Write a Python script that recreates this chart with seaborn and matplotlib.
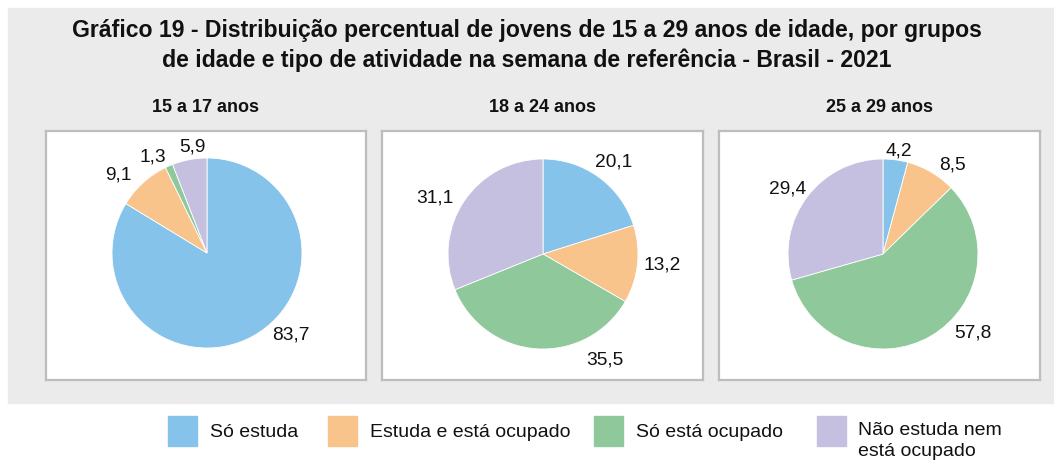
import matplotlib
matplotlib.use('Agg')
import matplotlib.pyplot as plt
from matplotlib.patches import Rectangle
import seaborn as sns

# ---- dados ----
categorias = ['Só estuda', 'Estuda e está ocupado', 'Só está ocupado',
              'Não estuda nem\nestá ocupado']
grupos = ['15 a 17 anos', '18 a 24 anos', '25 a 29 anos']
valores_15_17 = [83.7, 9.1, 1.3, 5.9]
valores_18_24 = [20.1, 13.2, 35.5, 31.1]
valores_25_29 = [4.2, 8.5, 57.8, 29.4]
cores = ['#86c3ea', '#f9c38c', '#8fc89a', '#c5c0e0']

titulo = ['Gráfico 19 - Distribuição percentual de jovens de 15 a 29 anos de idade, por grupos',
          'de idade e tipo de atividade na semana de referência - Brasil - 2021']

# ---- layout (pixels da figura) ----
W, H = 1054, 461
PAINEIS = [(46, 366), (382, 703), (719, 1040)]   # x esquerda/direita
PAINEL_Y = (131, 380)
CENTROS = [(207, 253), (543, 254), (883, 254)]
RAIO = 95
# posição dos rótulos em unidades de raio, relativo ao centro da pizza
ROTULOS_XY = [
    [(0.88, -0.86), (-0.93, 0.82), (-0.57, 1.01), (-0.15, 1.12)],
    [(0.74, 0.97), (1.25, -0.12), (0.65, -1.12), (-1.14, 0.59)],
    [(0.17, 1.08), (0.73, 0.94), (0.95, -0.83), (-1.0, 0.68)],
]
LEGENDA_X = [168, 328, 594, 817]

sns.set_theme(style='white')
plt.rcParams['font.family'] = ['Liberation Sans', 'DejaVu Sans']

pal = sns.color_palette(cores)


def fx(x):
    return x / W


def fy(y):
    return 1 - y / H


fig = plt.figure(figsize=(W / 100, H / 100), dpi=100)
fig.patch.set_facecolor('white')

# fundo cinza
fig.add_artist(Rectangle((fx(8), fy(403)), fx(W) - fx(8), fy(8) - fy(403),
                         transform=fig.transFigure, color='#ebebeb', zorder=0))

fig.text(0.5, fy(30), titulo[0], ha='center', va='center', fontsize=16.6,
         fontweight='bold', color='#111111')
fig.text(0.5, fy(60), titulo[1], ha='center', va='center', fontsize=16.6,
         fontweight='bold', color='#111111')

todos = [valores_15_17, valores_18_24, valores_25_29]
for i, valores in enumerate(todos):
    x0, x1 = PAINEIS[i]
    y0, y1 = PAINEL_Y
    cx, cy = CENTROS[i]
    ax = fig.add_axes([fx(x0), fy(y1), fx(x1) - fx(x0), fy(y0) - fy(y1)])
    ax.pie(valores, colors=pal, startangle=90, counterclock=False, radius=1,
           wedgeprops=dict(edgecolor='white', linewidth=0.6), frame=True)
    ax.set_xlim((x0 - cx) / RAIO, (x1 - cx) / RAIO)
    ax.set_ylim((cy - y1) / RAIO, (cy - y0) / RAIO)
    ax.set_aspect('auto')
    ax.set_xticks([])
    ax.set_yticks([])
    ax.set_facecolor('white')
    for sp in ax.spines.values():
        sp.set_visible(True)
        sp.set_color('#bdbdbd')
        sp.set_linewidth(1.6)
    for v, (lx, ly) in zip(valores, ROTULOS_XY[i]):
        ax.text(lx, ly, f'{v:.1f}'.replace('.', ','), ha='center', va='center',
                fontsize=13.8, color='#111111')
    fig.text(fx((x0 + x1) / 2), fy(107), grupos[i], ha='center', va='center',
             fontsize=13, fontweight='bold', color='#111111')

# legenda
for cat, cor, lx in zip(categorias, pal, LEGENDA_X):
    fig.add_artist(Rectangle((fx(lx), fy(446)), 29 / W, 30 / H,
                             transform=fig.transFigure, color=cor))
    if '\n' in cat:
        fig.text(fx(lx + 41), fy(422), cat, ha='left', va='top', fontsize=14,
                 color='#111111', linespacing=1.3)
    else:
        fig.text(fx(lx + 42), fy(432), cat, ha='left', va='center', fontsize=14,
                 color='#111111')

fig.savefig('out.png', dpi=100)
